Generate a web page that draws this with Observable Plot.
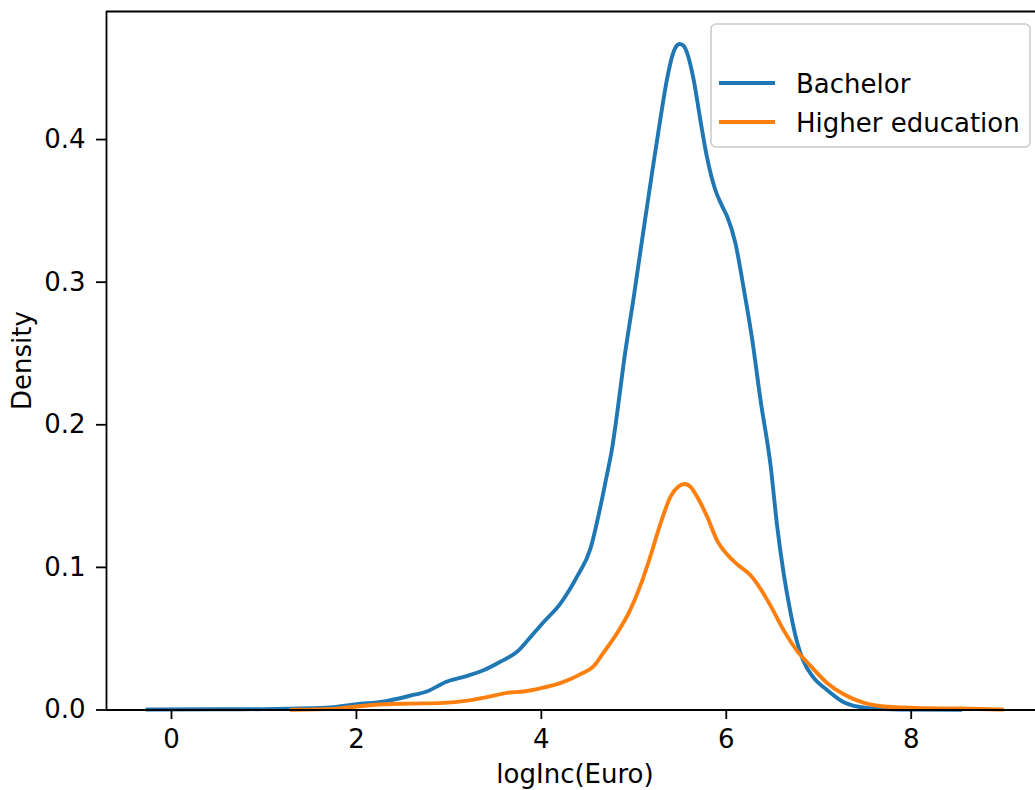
<!DOCTYPE html>
<html>
<head>
<meta charset="utf-8">
<script src="https://cdn.jsdelivr.net/npm/d3@7"></script>
<script src="https://cdn.jsdelivr.net/npm/@observablehq/plot@0.6"></script>
<style>
  html, body { margin: 0; padding: 0; background: white; overflow: hidden; }
  #chart svg { display: block; max-width: none; }
</style>
</head>
<body>
<div id="chart"></div>
<script>
// ---- data ----
const seriesNames = ["Bachelor", "Higher education"];
const seriesColors = ["#1f77b4", "#ff7f0e"];

const bachelorX = [-0.26, 0.5, 1.0, 1.5, 1.75, 2.0, 2.3, 2.58, 2.76, 2.98, 3.2, 3.38, 3.56, 3.74, 3.88, 4.03, 4.21, 4.39, 4.53, 4.64, 4.70, 4.764, 4.84, 4.89, 5.0, 5.106, 5.197, 5.286, 5.358, 5.413, 5.455, 5.496, 5.535, 5.575, 5.647, 5.719, 5.79, 5.88, 5.95, 6.01, 6.10, 6.19, 6.28, 6.37, 6.48, 6.55, 6.62, 6.69, 6.76, 6.83, 6.94, 7.09, 7.27, 7.52, 7.88, 8.53];
const bachelorDensity = [0.0003, 0.0005, 0.0006, 0.0012, 0.002, 0.004, 0.006, 0.010, 0.013, 0.020, 0.024, 0.028, 0.034, 0.041, 0.051, 0.062, 0.075, 0.094, 0.113, 0.143, 0.162, 0.183, 0.218, 0.243, 0.290, 0.337, 0.3765, 0.414, 0.442, 0.458, 0.465, 0.467, 0.466, 0.461, 0.442, 0.414, 0.388, 0.365, 0.354, 0.346, 0.327, 0.295, 0.260, 0.2175, 0.171, 0.129, 0.096, 0.070, 0.049, 0.035, 0.023, 0.014, 0.0055, 0.0015, 0.0003, 0.0001];

const higherX = [1.3, 1.75, 2.0, 2.3, 2.58, 2.94, 3.2, 3.41, 3.63, 3.81, 3.99, 4.21, 4.42, 4.57, 4.67, 4.82, 4.96, 5.07, 5.18, 5.29, 5.4, 5.48, 5.55, 5.62, 5.68, 5.79, 5.9, 6.01, 6.12, 6.27, 6.38, 6.48, 6.62, 6.76, 6.91, 7.09, 7.27, 7.49, 7.7, 8.06, 8.53, 8.98];
const higherDensity = [0.0002, 0.0008, 0.0025, 0.004, 0.0045, 0.005, 0.0066, 0.009, 0.012, 0.013, 0.0152, 0.019, 0.025, 0.031, 0.040, 0.054, 0.070, 0.087, 0.108, 0.131, 0.150, 0.1565, 0.1585, 0.156, 0.150, 0.136, 0.119, 0.109, 0.102, 0.094, 0.084, 0.073, 0.056, 0.042, 0.031, 0.019, 0.011, 0.005, 0.0025, 0.0015, 0.001, 0.0003];

const xTicks = [0, 2, 4, 6, 8];
const yTicks = [0.0, 0.1, 0.2, 0.3, 0.4];
const xLabel = "logInc(Euro)";
const yLabel = "Density";

// ---- build table ----
const rows = [];
bachelorX.forEach((x, i) => rows.push({series: seriesNames[0], x, y: bachelorDensity[i]}));
higherX.forEach((x, i) => rows.push({series: seriesNames[1], x, y: higherDensity[i]}));

const xDomain = [-0.703, 9.42];
const yDomain = [0, 0.4898];

const plot = Plot.plot({
  width: 1035,
  height: 790,
  marginLeft: 106,
  marginRight: 0,
  marginTop: 11,
  marginBottom: 80,
  x: {domain: xDomain, range: [106, 1042]},
  y: {domain: yDomain, range: [709.5, 11]},
  color: {domain: seriesNames, range: seriesColors},
  style: {fontFamily: "DejaVu Sans", fontSize: "26px", background: "white", color: "black"},
  marks: [
    Plot.line(rows, {x: "x", y: "y", stroke: "series", z: "series", strokeWidth: 3.9, curve: "monotone-x", strokeLinejoin: "round", strokeLinecap: "square"}),
    Plot.ruleY([yDomain[0]], {strokeWidth: 1.8, stroke: "black"}),
    Plot.ruleY([yDomain[1]], {strokeWidth: 1.8, stroke: "black"}),
    Plot.ruleX([xDomain[0]], {strokeWidth: 1.8, stroke: "black"}),
    Plot.ruleX([xDomain[1]], {strokeWidth: 1.8, stroke: "black"}),
    Plot.axisX({ticks: xTicks, tickSize: 9, tickPadding: 10.5, label: null, tickFormat: d => String(d), strokeWidth: 1.8}),
    Plot.axisY({ticks: yTicks, tickSize: 10, tickPadding: 11, label: null, tickFormat: d3.format(".1f"), strokeWidth: 1.8})
  ]
});

document.getElementById("chart").appendChild(plot);

// ---- axis titles and legend ----
const svg = d3.select(plot);
svg.append("text")
  .attr("x", 575).attr("y", 783)
  .attr("text-anchor", "middle")
  .attr("font-family", "DejaVu Sans").attr("font-size", 26).attr("fill", "black")
  .text(xLabel);
svg.append("text")
  .attr("transform", "translate(31,360.5) rotate(-90)")
  .attr("text-anchor", "middle")
  .attr("font-family", "DejaVu Sans").attr("font-size", 26).attr("fill", "black")
  .text(yLabel);

const lg = svg.append("g");
lg.append("rect")
  .attr("x", 711).attr("y", 24).attr("width", 319).attr("height", 123)
  .attr("rx", 5).attr("ry", 5)
  .attr("fill", "white").attr("fill-opacity", 0.8)
  .attr("stroke", "#cccccc").attr("stroke-width", 1.6);
seriesNames.forEach((name, i) => {
  const cy = 83 + i * 39;
  lg.append("line")
    .attr("x1", 719).attr("x2", 775).attr("y1", cy).attr("y2", cy)
    .attr("stroke", seriesColors[i]).attr("stroke-width", 3.9);
  lg.append("text")
    .attr("x", 796).attr("y", cy + 10)
    .attr("text-anchor", "start")
    .attr("font-family", "DejaVu Sans").attr("font-size", 26).attr("fill", "black")
    .text(name);
});
</script>
</body>
</html>
